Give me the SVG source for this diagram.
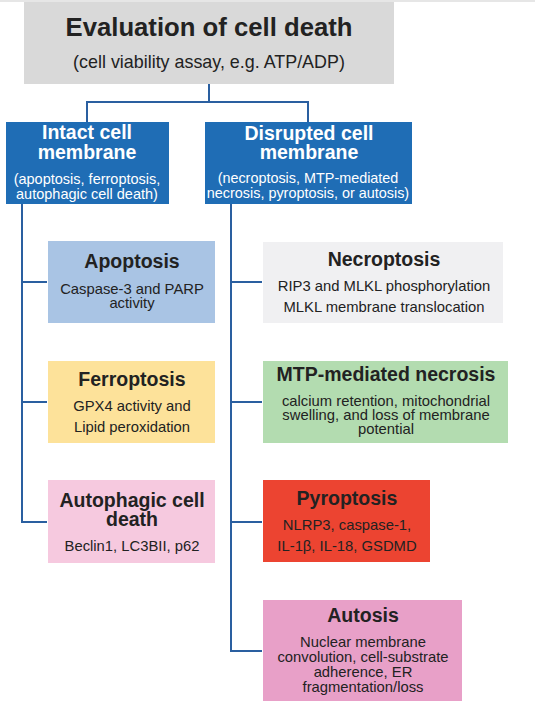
<svg xmlns="http://www.w3.org/2000/svg" width="535" height="708" viewBox="0 0 535 708">
<style>
text{font-family:"Liberation Sans",Arial,sans-serif;text-anchor:middle;fill:#222}
.h{font-weight:bold;font-size:19.5px}
.s{font-size:14.8px}
.w{fill:#fff}
.c{fill:none;stroke:#2a5fa0;stroke-width:2}
</style>
<rect width="535" height="708" fill="#fff"/>
<rect x="0" y="0" width="535" height="2" fill="#e6e6e6"/>
<g id="connectors">
<path class="c" d="M209 84V102M87 102H308M87 101V122M308 101V122"/>
<path class="c" d="M22 204V522M21 282H47M21 402H47M21 522H47"/>
<path class="c" d="M231 204V651M230 282H262M230 402H262M230 522H262M230 651H262"/>
</g>
<g id="root">
<rect x="24" y="2" width="370" height="82" fill="#d9d9d9"/>
<text x="209" y="36" style="font-weight:bold;font-size:25.7px">Evaluation of cell death</text>
<text x="209" y="68" style="font-size:17.9px">(cell viability assay, e.g. ATP/ADP)</text>
</g>
<g id="intact">
<rect x="6" y="122" width="163" height="82" fill="#1f6db5"/>
<text class="w" x="87" y="139" style="font-weight:bold;font-size:19.5px">Intact cell</text>
<text class="w" x="87" y="159" style="font-weight:bold;font-size:19.5px">membrane</text>
<text class="w" x="87" y="184" style="font-size:14.5px">(apoptosis, ferroptosis,</text>
<text class="w" x="87" y="199" style="font-size:14.5px">autophagic cell death)</text>
</g>
<g id="disrupted">
<rect x="205" y="122" width="207" height="82" fill="#1f6db5"/>
<text class="w" x="309" y="140" style="font-weight:bold;font-size:19.5px">Disrupted cell</text>
<text class="w" x="309" y="159" style="font-weight:bold;font-size:19.5px">membrane</text>
<text class="w" x="308" y="183" style="font-size:14.4px">(necroptosis, MTP-mediated</text>
<text class="w" x="308" y="198" style="font-size:14.4px">necrosis, pyroptosis, or autosis)</text>
</g>
<g id="apoptosis">
<rect x="48" y="241" width="167" height="82" fill="#a9c4e4"/>
<text class="h" x="132" y="268">Apoptosis</text>
<text class="s" x="132" y="294">Caspase-3 and PARP</text>
<text class="s" x="132" y="308">activity</text>
</g>
<g id="ferroptosis">
<rect x="48" y="361" width="167" height="82" fill="#fde29a"/>
<text class="h" x="132" y="386">Ferroptosis</text>
<text class="s" x="132" y="411">GPX4 activity and</text>
<text class="s" x="132" y="432">Lipid peroxidation</text>
</g>
<g id="autophagic">
<rect x="48" y="480" width="167" height="83" fill="#f6c9df"/>
<text class="h" x="132" y="507">Autophagic cell</text>
<text class="h" x="132" y="526">death</text>
<text class="s" x="132" y="551">Beclin1, LC3BII, p62</text>
</g>
<g id="necroptosis">
<rect x="263" y="242" width="240" height="81" fill="#f0f0f2"/>
<text class="h" x="384" y="266">Necroptosis</text>
<text class="s" x="384" y="291">RIP3 and MLKL phosphorylation</text>
<text class="s" x="384" y="312">MLKL membrane translocation</text>
</g>
<g id="mtp">
<rect x="263" y="361" width="245" height="82" fill="#b3dcb0"/>
<text class="h" x="386" y="381">MTP-mediated necrosis</text>
<text class="s" x="386" y="406">calcium retention, mitochondrial</text>
<text class="s" x="386" y="420">swelling, and loss of membrane</text>
<text class="s" x="386" y="434">potential</text>
</g>
<g id="pyroptosis">
<rect x="263" y="480" width="167" height="82" fill="#ec4431"/>
<text class="h" x="347" y="505">Pyroptosis</text>
<text class="s" x="347" y="530">NLRP3, caspase-1,</text>
<text class="s" x="347" y="551">IL-1β, IL-18, GSDMD</text>
</g>
<g id="autosis">
<rect x="263" y="600" width="199" height="101" fill="#e8a0c8"/>
<text class="h" x="363" y="622">Autosis</text>
<text class="s" x="363" y="647">Nuclear membrane</text>
<text class="s" x="363" y="662">convolution, cell-substrate</text>
<text class="s" x="363" y="677">adherence, ER</text>
<text class="s" x="363" y="692">fragmentation/loss</text>
</g>
</svg>
